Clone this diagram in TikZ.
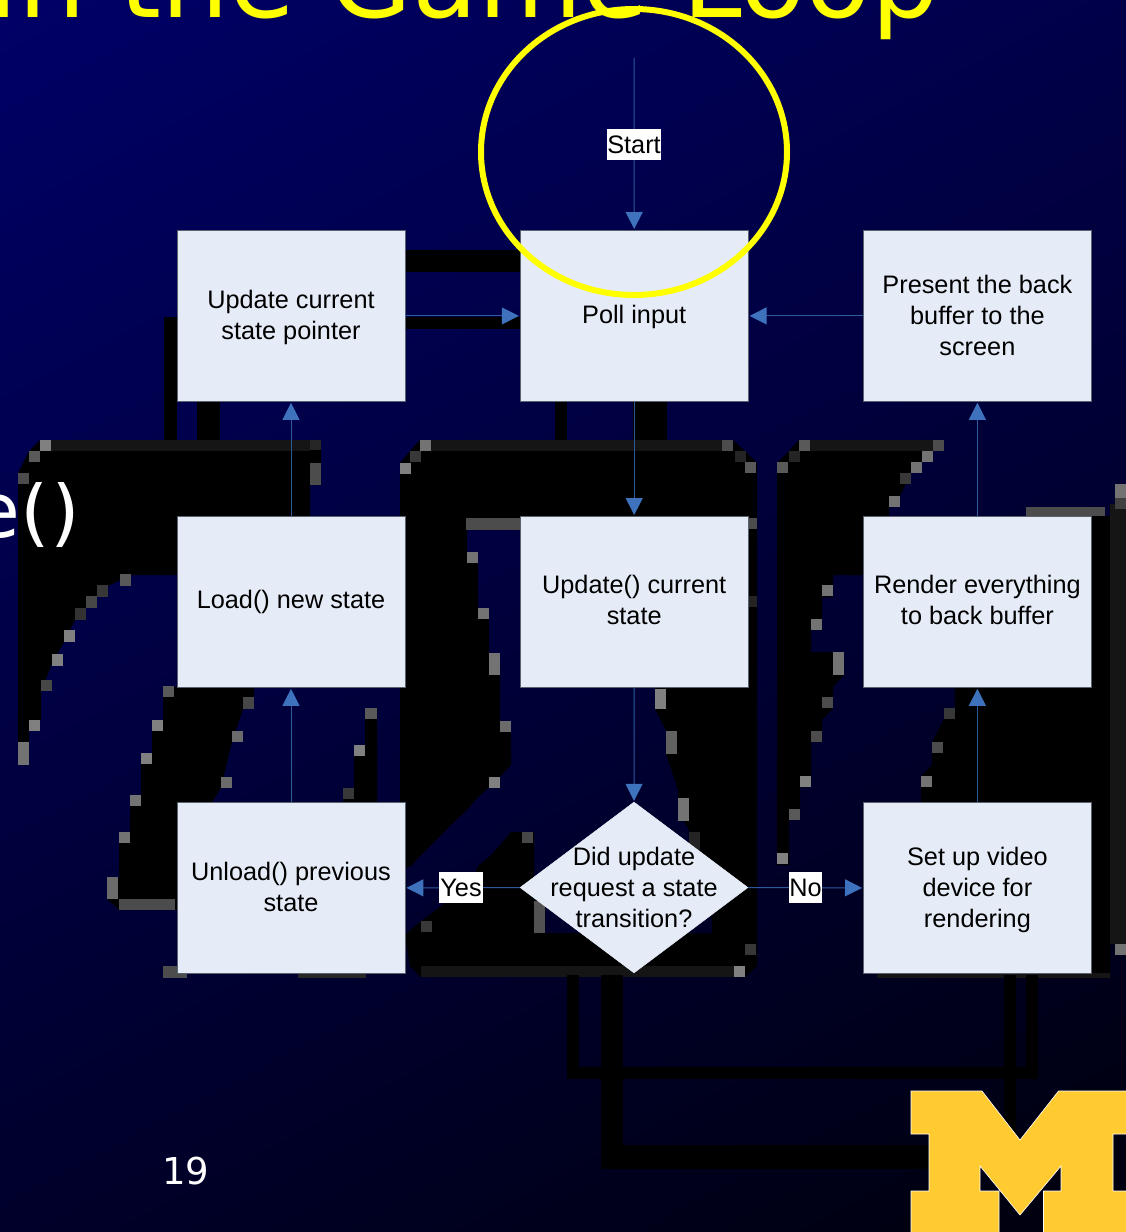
\documentclass[tikz,border=0pt]{standalone}
\usepackage{fontspec}
\setmainfont{Liberation Sans}
\newfontfamily\slidefont{DejaVu Sans}
\usetikzlibrary{arrows.meta,shapes.geometric}
\definecolor{boxfill}{HTML}{E6ECF7}
\definecolor{boxedge}{HTML}{5A6270}
\definecolor{linkline}{HTML}{2C5A9A}
\definecolor{linktip}{HTML}{3E72BD}
\definecolor{mblue}{HTML}{FFCB31}
\definecolor{band}{HTML}{151515}
\definecolor{bgtop}{HTML}{00006C}
\definecolor{bgbot}{HTML}{000008}
\definecolor{slideyellow}{RGB}{255,255,0}
\newcommand{\px}[5]{\fill[white!#5!black] (#1,#2) rectangle ++(#3,#4);}
\tikzset{
  procbox/.style={draw=boxedge,line width=.8pt,fill=boxfill,minimum width=228pt,minimum height=171pt,inner sep=0pt,anchor=north west},
  boxtext/.style={font=\fontsize{25.3}{31}\selectfont,align=center,text=black,inner sep=0pt},
  link/.style={draw=linkline,line width=1pt,-{Triangle[length=17pt,width=17pt,color=linktip]},shorten >=1pt},
  tag/.style={fill=white,text=black,font=\fontsize{25.3}{31}\selectfont,inner sep=0pt,text depth=0pt},
  blob/.style={fill=black,draw=none}
}
\begin{document}
\begin{tikzpicture}[x=1pt,y=-1pt]
\useasboundingbox (0,0) rectangle (1126,1232);
\clip (0,0) rectangle (1126,1232);
\shade[shading=axis,top color=bgtop,bottom color=bgbot,shading angle=28] (-300,-300) rectangle (1426,1532);

% title
\node[anchor=base east,text=slideyellow,inner sep=0pt,font=\slidefont\fontsize{107}{107}\selectfont] (title) at (939,17) {in the Game Loop};

% black ghost shapes
\fill[blob] (18,473)--(29,451)--(40,440)--(321,440)--(321,485)--(310,485)--(310,516)--(250,516)--(177,516)--(177,575)--(131,575)--(108,586)--(97,597)--(86,608)--(75,620)--(64,642)--(52,664)--(41,691)--(41,720)--(29,731)--(29,765)--(18,765)--cycle;
\fill[blob] (163,687)--(163,720)--(152,731)--(152,753)--(141,764)--(141,795)--(130,806)--(130,832)--(119,843)--(119,878)--(107,878)--(107,899)--(119,910)--(200,910)--(200,803)--(212,802)--(221,788)--(232,742)--(243,709)--(254,697)--(254,687)--cycle;
\fill[blob] (377,708)--(365,708)--(365,745)--(354,756)--(354,788)--(343,799)--(343,803)--(377,803)--cycle;
\fill[blob] (400,463)--(410,451)--(420,440)--(733,440)--(745,451)--(757,463)--(757,966)--(745,977)--(421,977)--(410,966)--(405,935)--(421,921)--(432,913)--(445,903)--(470,887)--(478,866)--(491,855)--(500,845)--(511,832)--(534,832)--(534,878)--(545,905)--(545,933)--(712,933)--(712,920)--(700,860)--(690,832)--(678,810)--(678,790)--(666,754)--(666,731)--(655,709)--(655,687)--(600,600)--(520,530)--(467,530)--(467,552)--(478,563)--(478,608)--(489,620)--(489,653)--(500,675)--(500,721)--(511,732)--(511,765)--(500,777)--(500,788)--(488,788)--(477,798)--(467,810)--(455,821)--(444,832)--(432,844)--(421,855)--(411,866)--(400,870)--cycle;
\fill[blob] (777,463)--(789,451)--(799,440)--(944,440)--(933,451)--(922,462)--(911,473)--(900,496)--(889,508)--(889,516)--(863,516)--(863,575)--(833,575)--(833,597)--(822,597)--(822,630)--(811,630)--(811,652)--(844,652)--(844,675)--(833,687)--(833,708)--(822,720)--(822,742)--(811,742)--(811,787)--(800,787)--(800,820)--(789,820)--(789,865)--(777,865)--cycle;
\fill[blob] (955,687)--(955,708)--(944,719)--(932,742)--(932,765)--(921,776)--(921,803)--(1091,803)--(1091,977)--(1110,977)--(1110,516)--(1091,516)--(1091,687)--cycle;
\fill[band] (1110,504) rectangle (1126,944);
\fill[band] (877,973) rectangle (1110,978);

% bands and antialiasing steps
\fill[band] (40,440) rectangle (310,451);
\fill[band] (431,440) rectangle (722,451);
\fill[band] (810,440) rectangle (933,451);
\fill[band] (421,966) rectangle (734,977);
\foreach \a/\b/\w/\h/\g in {
40/440/11/11/50,29/451/11/11/35,18/473/11/11/30,310/440/11/10/15,310/463/11/22/30,
120/574/11/12/35,97/585/11/12/22,86/596/11/12/28,75/608/11/12/20,64/630/11/12/50,52/654/11/12/50,41/680/11/11/28,29/720/11/11/50,18/742/11/23/45,
163/686/11/11/35,152/720/11/11/50,141/753/11/11/50,130/795/11/11/45,119/832/11/11/45,107/877/11/22/42,119/899/56/11/30,
243/697/11/12/28,232/731/11/11/42,221/777/11/11/42,365/708/12/11/35,354/745/11/11/50,343/788/11/11/22,
163/966/24/12/30,298/973/68/5/15,
420/440/11/11/45,410/451/11/11/22,400/463/11/11/50,466/518/54/12/30,467/552/11/11/45,478/608/11/11/45,489/653/11/22/45,500/721/11/11/42,489/777/11/11/50,
421/921/11/11/22,522/832/11/11/28,534/901/11/32/32,
722/440/11/11/30,735/451/11/11/14,745/462/11/11/35,746/518/11/11/30,746/596/11/11/14,655/689/11/20/50,666/731/11/23/38,678/798/11/23/45,689/832/11/20/14,745/944/11/11/22,734/966/11/11/50,
799/440/11/11/35,789/451/11/11/14,777/462/11/11/35,933/440/11/11/30,922/451/11/11/45,911/462/11/11/45,900/473/11/11/22,889/496/11/11/45,
822/585/11/11/45,811/619/11/11/45,833/652/11/23/45,822/697/11/11/30,811/731/11/11/30,800/776/11/11/50,789/809/11/11/35,777/853/11/11/50,
944/708/11/11/22,932/742/11/11/30,921/776/11/11/45,
1026/507/79/9/30,1115/484/11/14/45,1115/498/11/11/25,1115/944/11/11/45}
  {\px{\a}{\b}{\w}{\h}{\g}}

% thick black bars
\fill[blob] (405,250) rectangle (520,272);
\fill[blob] (405,317) rectangle (520,329);
\fill[blob] (164,317) rectangle (177,440);
\fill[blob] (197,401) rectangle (220,440);
\fill[blob] (555,401) rectangle (567,440);
\fill[blob] (633,401) rectangle (667,440);
\fill[blob] (567,975) rectangle (578.5,1079);
\fill[blob] (567,1067) rectangle (1038,1079);
\fill[blob] (1026,975) rectangle (1038,1079);
\fill[blob] (1003.5,975) rectangle (1015.5,1135);
\fill[blob] (600.5,975) rectangle (623,1169);
\fill[blob] (600.5,1145) rectangle (935,1169);

% fragment of hidden slide text
\begin{scope}
\clip (0,482) rectangle (100,553);
\node[anchor=base east,text=white,inner sep=0pt,font=\slidefont\fontsize{76}{76}\selectfont] (frag) at (80,537) {e()};
\end{scope}

% boxes
\node[procbox] (update) at (176.6,230) {};
\node[procbox] (poll) at (519.8,230) {};
\node[procbox] (present) at (863,230) {};
\node[procbox] (load) at (176.6,516) {};
\node[procbox] (state) at (519.8,516) {};
\node[procbox] (render) at (863,516) {};
\node[procbox] (unload) at (176.6,802) {};
\node[procbox] (setup) at (863,802) {};
\node[diamond,draw=boxfill,fill=boxfill,line width=.4pt,aspect=1.333,minimum width=228pt,minimum height=171pt,inner sep=0pt] (decision) at (634,887.5) {};
\node[boxtext,yshift=-1.5pt] (t1) at (update.center) {Update current\\state pointer};
\node[boxtext,yshift=-1pt] (t2) at (poll.center) {Poll input};
\node[boxtext] (t3) at (present.center) {Present the back\\buffer to the\\screen};
\node[boxtext] (t4) at (load.center) {Load() new state};
\node[boxtext,yshift=1.5pt] (t5) at (state.center) {Update() current\\state};
\node[boxtext,yshift=1.5pt] (t6) at (render.center) {Render everything\\to back buffer};
\node[boxtext,yshift=1pt] (t7) at (unload.center) {Unload() previous\\state};
\node[boxtext,yshift=-2pt] (t8) at (setup.center) {Set up video\\device for\\rendering};
\node[boxtext] (t9) at (decision.center) {Did update\\request a state\\transition?};

% connectors
\coordinate (startpt) at (634,58);
\draw[link] (startpt) -- (poll.north);
\draw[link] (update.east) -- (poll.west);
\draw[link] (present.west) -- (poll.east);
\draw[link] (poll.south) -- (state.north);
\draw[link] (state.south) -- (decision.north);
\draw[link] (decision.west) -- (unload.east);
\draw[link] (decision.east) -- (setup.west);
\draw[link] (unload.north) -- (load.south);
\draw[link] (load.north) -- (update.south);
\draw[link] (setup.north) -- (render.south);
\draw[link] (render.north) -- (present.south);

% tags
\node[tag,minimum width=54pt,minimum height=31pt] (starttag) at (634,144.5) {Start};
\node[tag,minimum width=44pt,minimum height=31pt] (yestag) at (461,887.5) {Yes};
\node[tag,minimum width=31pt,minimum height=31pt] (notag) at (805.5,887.5) {No};

% highlight
\node[ellipse,draw=slideyellow,line width=6pt,minimum width=306pt,minimum height=286pt,inner sep=0pt] (spot) at (634,152) {};

% page number and logo
\node[anchor=base west,text=white,inner sep=0pt,font=\slidefont\fontsize{37}{37}\selectfont] (page) at (162,1184) {19};
\fill[mblue,draw=white,line width=.6pt] (911,1091)--(982,1091)--(1020,1140)--(1058.5,1091)--(1127,1091)--(1127,1134)--(1113,1134)--(1113,1191)--(1127,1191)--(1127,1233)--(1043.5,1233)--(1043.5,1191)--(1061,1191)--(1061,1166)--(1020,1215)--(980,1166)--(980,1191)--(999,1191)--(999,1233)--(911,1233)--(911,1191)--(929,1191)--(929,1134)--(911,1134)--cycle;
\end{tikzpicture}
\end{document}
